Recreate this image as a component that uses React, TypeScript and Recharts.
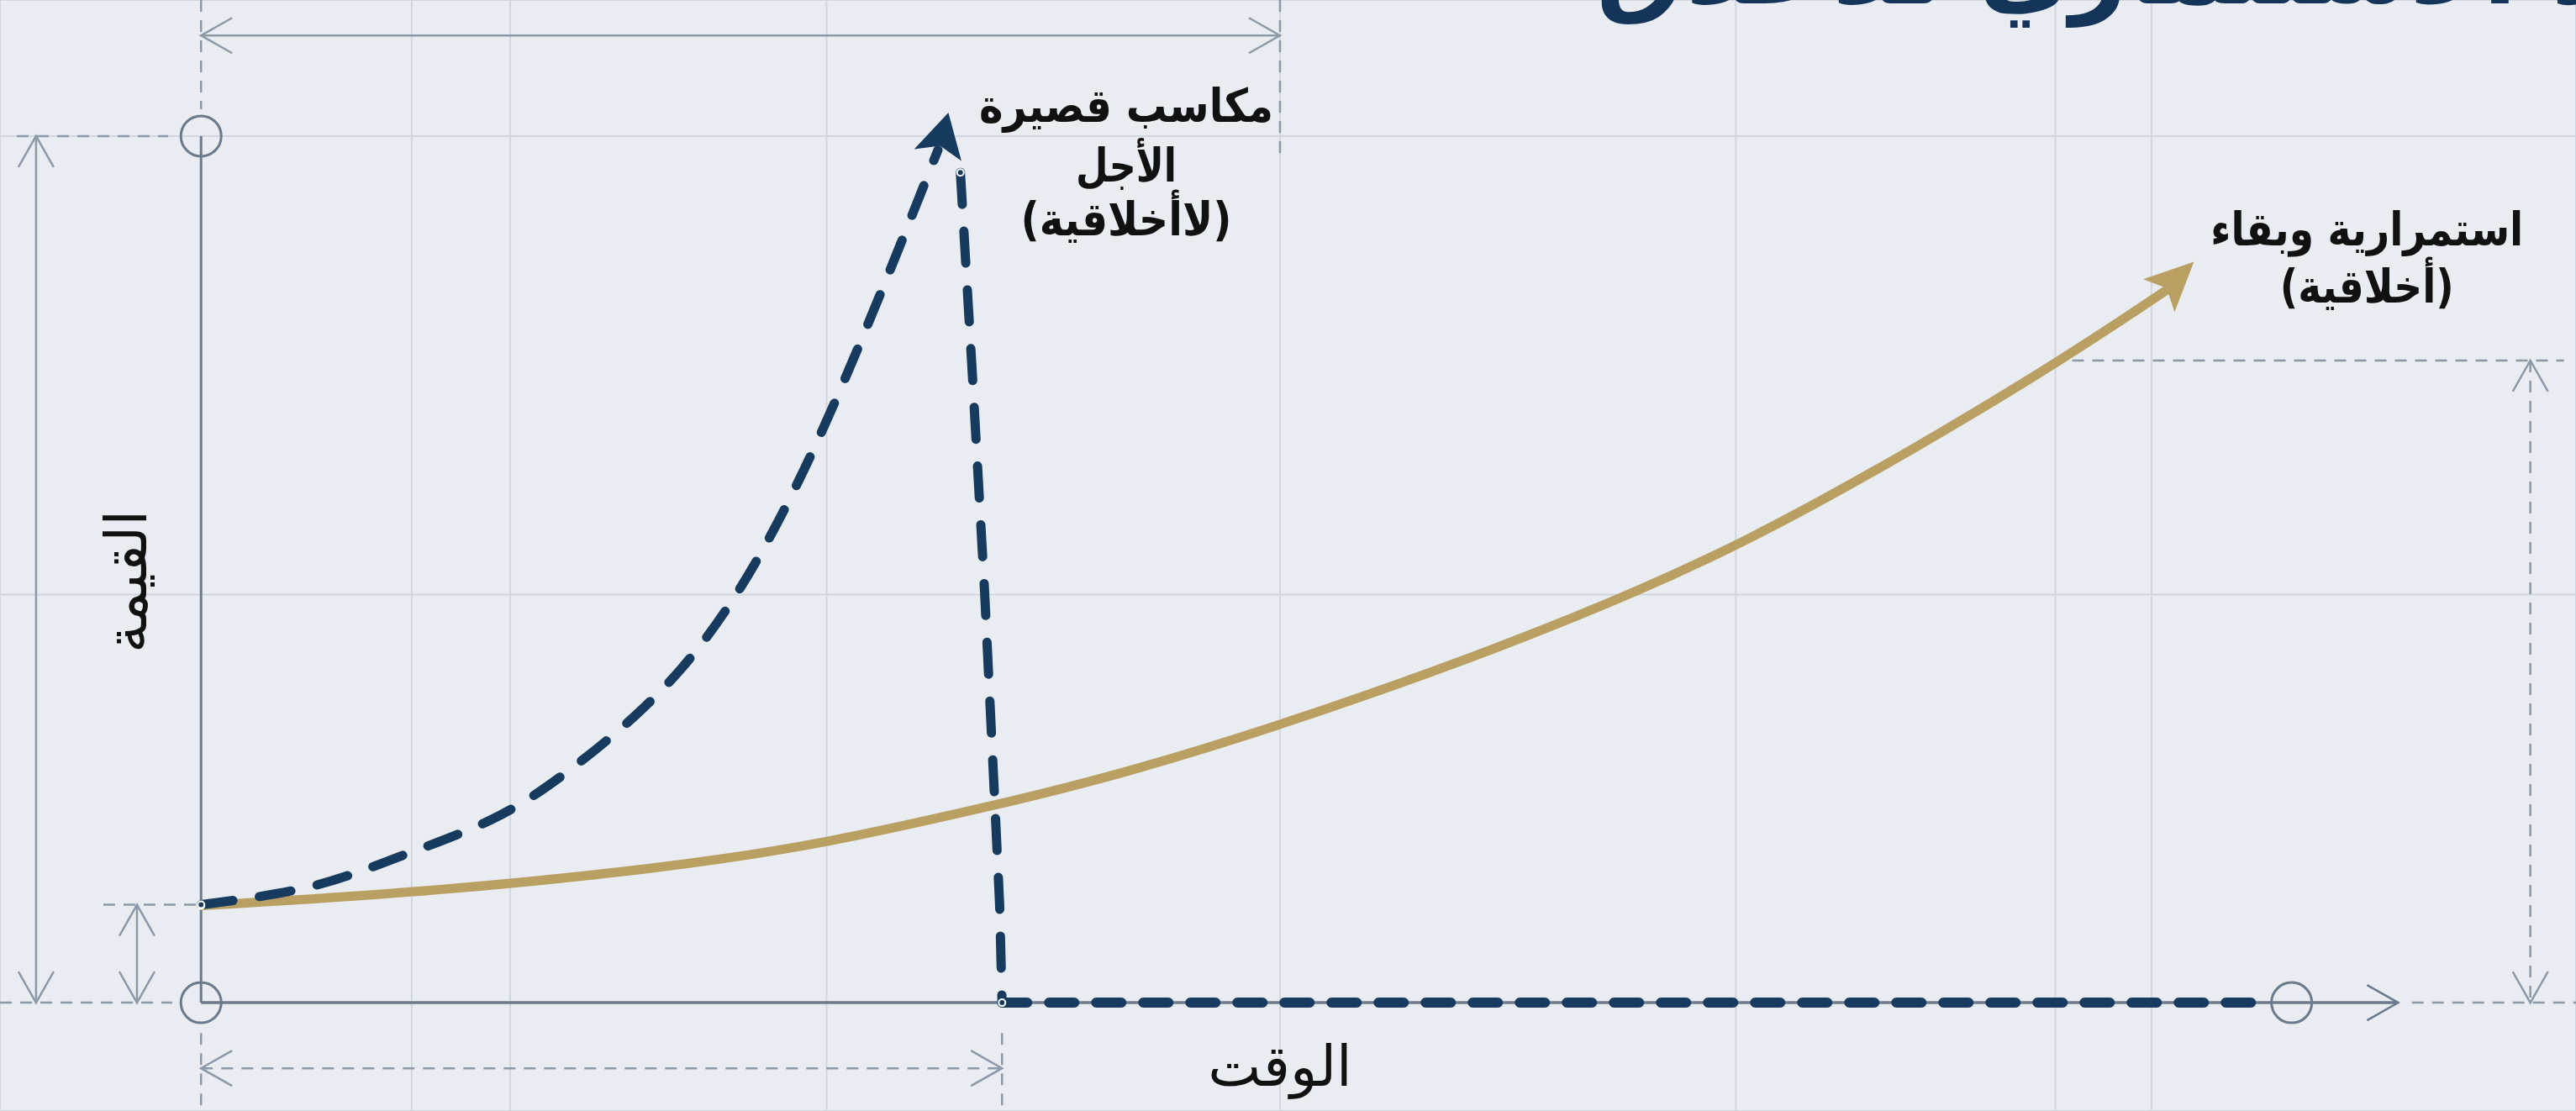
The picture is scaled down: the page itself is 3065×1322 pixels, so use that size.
import React from "react";
import {
  ComposedChart, Line, XAxis, YAxis, CartesianGrid, ReferenceLine, ReferenceDot,
} from "recharts";

// time (crash at t = 10) and value (top mark = 100)
const riseT = [0, 1.37, 2.52, 3.62, 4.65, 6.0, 7.18, 8.2, 9.2];
const riseV = [11.3, 13.4, 17.0, 21.1, 27.2, 38.6, 55.1, 75.5, 98.4];

const dropT = [9.48, 9.63, 9.78, 9.91, 9.97, 10.0];
const dropV = [95.8, 72.4, 47.8, 23.0, 11.3, 0];

const flatT = [10, 25.77];
const flatV = [0, 0];

const growT = [0, 2.63, 5.79, 7.82, 9.92, 11.45, 14.28, 18.16, 20.58, 23.1, 24.55];
const growV = [11.2, 12.6, 15.5, 18.4, 22.8, 26.2, 34.3, 47.8, 59.5, 73.3, 82.3];

const gridT = [2.63, 3.86, 7.81, 13.47, 19.16, 23.15, 24.35];
const gridV = [47.1, 100];

const TITLE = "العائد الاستثماري للأخلاق";
const shortLabel = ["مكاسب قصيرة", "الأجل", "(لاأخلاقية)"];
const longLabel = ["استمرارية وبقاء", "(أخلاقية)"];
const yTitle = "القيمة";
const xTitle = "الوقت";

const toRows = (ts: number[], vs: number[]) => ts.map((t, i) => ({ t, v: vs[i] }));

const NAVY = "#173a5f";
const GOLD = "#b9a062";
const AXIS = "#6c7b8b";
const DIM = "#8d99a6";
const FONT = "DejaVu Sans";

function OpenHead({ cx, cy, angle, color = DIM }: any) {
  return (
    <g transform={`translate(${cx},${cy}) rotate(${angle})`}>
      <polyline points="-37,-21 0,0 -37,21" fill="none" stroke={color} strokeWidth={2.5} />
    </g>
  );
}

function SolidHead({ cx, cy, angle, color, len, half }: any) {
  return (
    <g transform={`translate(${cx},${cy}) rotate(${angle})`}>
      <path d={`M0,0 L${-len},${-half} L${-len * 0.78},0 L${-len},${half} Z`} fill={color} />
    </g>
  );
}

// each line: [text, width, dy]
function TextBlock({ cx, cy, lines, size }: any) {
  return (
    <text x={cx} y={cy} textAnchor="middle" fontFamily={FONT} fontSize={size} fontWeight="bold" fill="#111">
      {lines.map((l: any, i: number) => (
        <tspan key={i} x={cx} dy={l[2]} textLength={l[1]} lengthAdjust="spacingAndGlyphs">{l[0]}</tspan>
      ))}
    </text>
  );
}

export default function App() {
  const dimLine = { stroke: DIM, strokeWidth: 2.5, ifOverflow: "visible" as const };
  const extLine = { stroke: DIM, strokeWidth: 2.5, strokeDasharray: "14 10", ifOverflow: "visible" as const };
  const s = shortLabel;
  const g = longLabel;
  return (
    <div style={{ position: "absolute", left: 0, top: 0, width: 3065, height: 1322, background: "#e9edf1", overflow: "hidden" }}>
      <ComposedChart width={3065} height={1322} margin={{ top: 0, right: 0, bottom: 0, left: 0 }}>
        <XAxis type="number" dataKey="t" domain={[-2.51, 29.65]} allowDataOverflow hide ticks={gridT} interval={0} />
        <YAxis type="number" domain={[-12.5, 115.7]} allowDataOverflow hide ticks={gridV} interval={0} />
        <CartesianGrid stroke="#cfd6de" strokeWidth={2} />

        {/* dimension lines */}
        <ReferenceLine segment={[{ x: 0, y: 111.6 }, { x: 13.47, y: 111.6 }]} {...dimLine} />
        <ReferenceLine segment={[{ x: 0, y: 115.7 }, { x: 0, y: 103.1 }]} {...extLine} />
        <ReferenceLine segment={[{ x: 13.47, y: 115.7 }, { x: 13.47, y: 97.1 }]} {...extLine} />
        <ReferenceDot x={0} y={111.6} shape={(p: any) => <OpenHead cx={p.cx} cy={p.cy} angle={180} />} />
        <ReferenceDot x={13.47} y={111.6} shape={(p: any) => <OpenHead cx={p.cx} cy={p.cy} angle={0} />} />

        <ReferenceLine segment={[{ x: -2.06, y: 100 }, { x: -2.06, y: 0 }]} {...dimLine} />
        <ReferenceLine segment={[{ x: -2.3, y: 100 }, { x: -0.41, y: 100 }]} {...extLine} />
        <ReferenceLine segment={[{ x: -2.51, y: 0 }, { x: -0.36, y: 0 }]} {...extLine} />
        <ReferenceDot x={-2.06} y={100} shape={(p: any) => <OpenHead cx={p.cx} cy={p.cy} angle={-90} />} />
        <ReferenceDot x={-2.06} y={0} shape={(p: any) => <OpenHead cx={p.cx} cy={p.cy} angle={90} />} />

        <ReferenceLine segment={[{ x: -0.8, y: 11.3 }, { x: -0.8, y: 0 }]} {...dimLine} />
        <ReferenceLine segment={[{ x: -1.22, y: 11.3 }, { x: -0.06, y: 11.3 }]} {...extLine} />
        <ReferenceDot x={-0.8} y={11.3} shape={(p: any) => <OpenHead cx={p.cx} cy={p.cy} angle={-90} />} />
        <ReferenceDot x={-0.8} y={0} shape={(p: any) => <OpenHead cx={p.cx} cy={p.cy} angle={90} />} />

        <ReferenceLine segment={[{ x: 0, y: -7.57 }, { x: 10, y: -7.57 }]} {...extLine} />
        <ReferenceLine segment={[{ x: 0, y: -3.5 }, { x: 0, y: -12.5 }]} {...extLine} />
        <ReferenceLine segment={[{ x: 10, y: -3.5 }, { x: 10, y: -12.5 }]} {...extLine} />
        <ReferenceDot x={0} y={-7.57} shape={(p: any) => <OpenHead cx={p.cx} cy={p.cy} angle={180} />} />
        <ReferenceDot x={10} y={-7.57} shape={(p: any) => <OpenHead cx={p.cx} cy={p.cy} angle={0} />} />

        <ReferenceLine segment={[{ x: 29.08, y: 74.1 }, { x: 29.08, y: 0 }]} {...extLine} />
        <ReferenceLine segment={[{ x: 23.36, y: 74.1 }, { x: 29.5, y: 74.1 }]} {...extLine} />
        <ReferenceLine segment={[{ x: 27.6, y: 0 }, { x: 29.65, y: 0 }]} {...extLine} />
        <ReferenceDot x={29.08} y={74.1} shape={(p: any) => <OpenHead cx={p.cx} cy={p.cy} angle={-90} />} />
        <ReferenceDot x={29.08} y={0} shape={(p: any) => <OpenHead cx={p.cx} cy={p.cy} angle={90} />} />

        {/* axes */}
        <ReferenceLine segment={[{ x: 0, y: 0 }, { x: 27.43, y: 0 }]} stroke={AXIS} strokeWidth={3.5} />
        <ReferenceLine segment={[{ x: 0, y: 0 }, { x: 0, y: 100 }]} stroke={AXIS} strokeWidth={3} />
        <ReferenceDot x={27.43} y={0} shape={(p: any) => <OpenHead cx={p.cx} cy={p.cy} angle={0} color={AXIS} />} />
        <ReferenceDot x={0} y={100} r={24} fill="none" stroke={AXIS} strokeWidth={3} />
        <ReferenceDot x={0} y={0} r={24} fill="none" stroke={AXIS} strokeWidth={3} />
        <ReferenceDot x={26.1} y={0} r={24} fill="none" stroke={AXIS} strokeWidth={3} />

        {/* series */}
        <Line data={toRows(growT, growV)} dataKey="v" type="basis" stroke={GOLD} strokeWidth={11} dot={false} isAnimationActive={false} />
        <Line data={toRows(riseT, riseV)} dataKey="v" type="natural" stroke={NAVY} strokeWidth={11} strokeDasharray="38 32" strokeLinecap="round" dot={false} isAnimationActive={false} />
        <Line data={toRows(dropT, dropV)} dataKey="v" type="linear" stroke={NAVY} strokeWidth={11} strokeDasharray="38 32" strokeLinecap="round" dot={false} isAnimationActive={false} />
        <Line data={toRows(flatT, flatV)} dataKey="v" type="linear" stroke={NAVY} strokeWidth={12} strokeDasharray="30 26" strokeLinecap="round" dot={false} isAnimationActive={false} />
        <ReferenceDot x={9.33} y={102.7} shape={(p: any) => <SolidHead cx={p.cx} cy={p.cy} angle={-76} color={NAVY} len={52} half={29} />} />
        <ReferenceDot x={24.88} y={85.5} shape={(p: any) => <SolidHead cx={p.cx} cy={p.cy} angle={-44} color={GOLD} len={58} half={27} />} />

        {/* texts */}
        <ReferenceDot x={17.42} y={115.3} shape={(p: any) => (
          <text x={p.cx} y={p.cy} textAnchor="start" fontFamily={FONT} fontWeight="bold" fontSize={118} fill="#143459">{TITLE}</text>
        )} />
        <ReferenceDot x={11.55} y={101.6} shape={(p: any) => (
          <TextBlock cx={p.cx} cy={p.cy} size={55} lines={[[s[0], 350, 0], [s[1], 120, 71], [s[2], 251, 64]]} />
        )} />
        <ReferenceDot x={27.04} y={87.4} shape={(p: any) => (
          <TextBlock cx={p.cx} cy={p.cy} size={55} lines={[[g[0], 372, 0], [g[1], 207, 68]]} />
        )} />
        <ReferenceDot x={-0.93} y={48.6} shape={(p: any) => (
          <text x={p.cx} y={p.cy} transform={`rotate(-90 ${p.cx} ${p.cy})`} textAnchor="middle" dominantBaseline="central" fontFamily={FONT} fontSize={68} fill="#111">{yTitle}</text>
        )} />
        <ReferenceDot x={13.47} y={-9.6} shape={(p: any) => (
          <text x={p.cx} y={p.cy} textAnchor="middle" fontFamily={FONT} fontSize={67} fill="#111">{xTitle}</text>
        )} />
      </ComposedChart>
    </div>
  );
}
